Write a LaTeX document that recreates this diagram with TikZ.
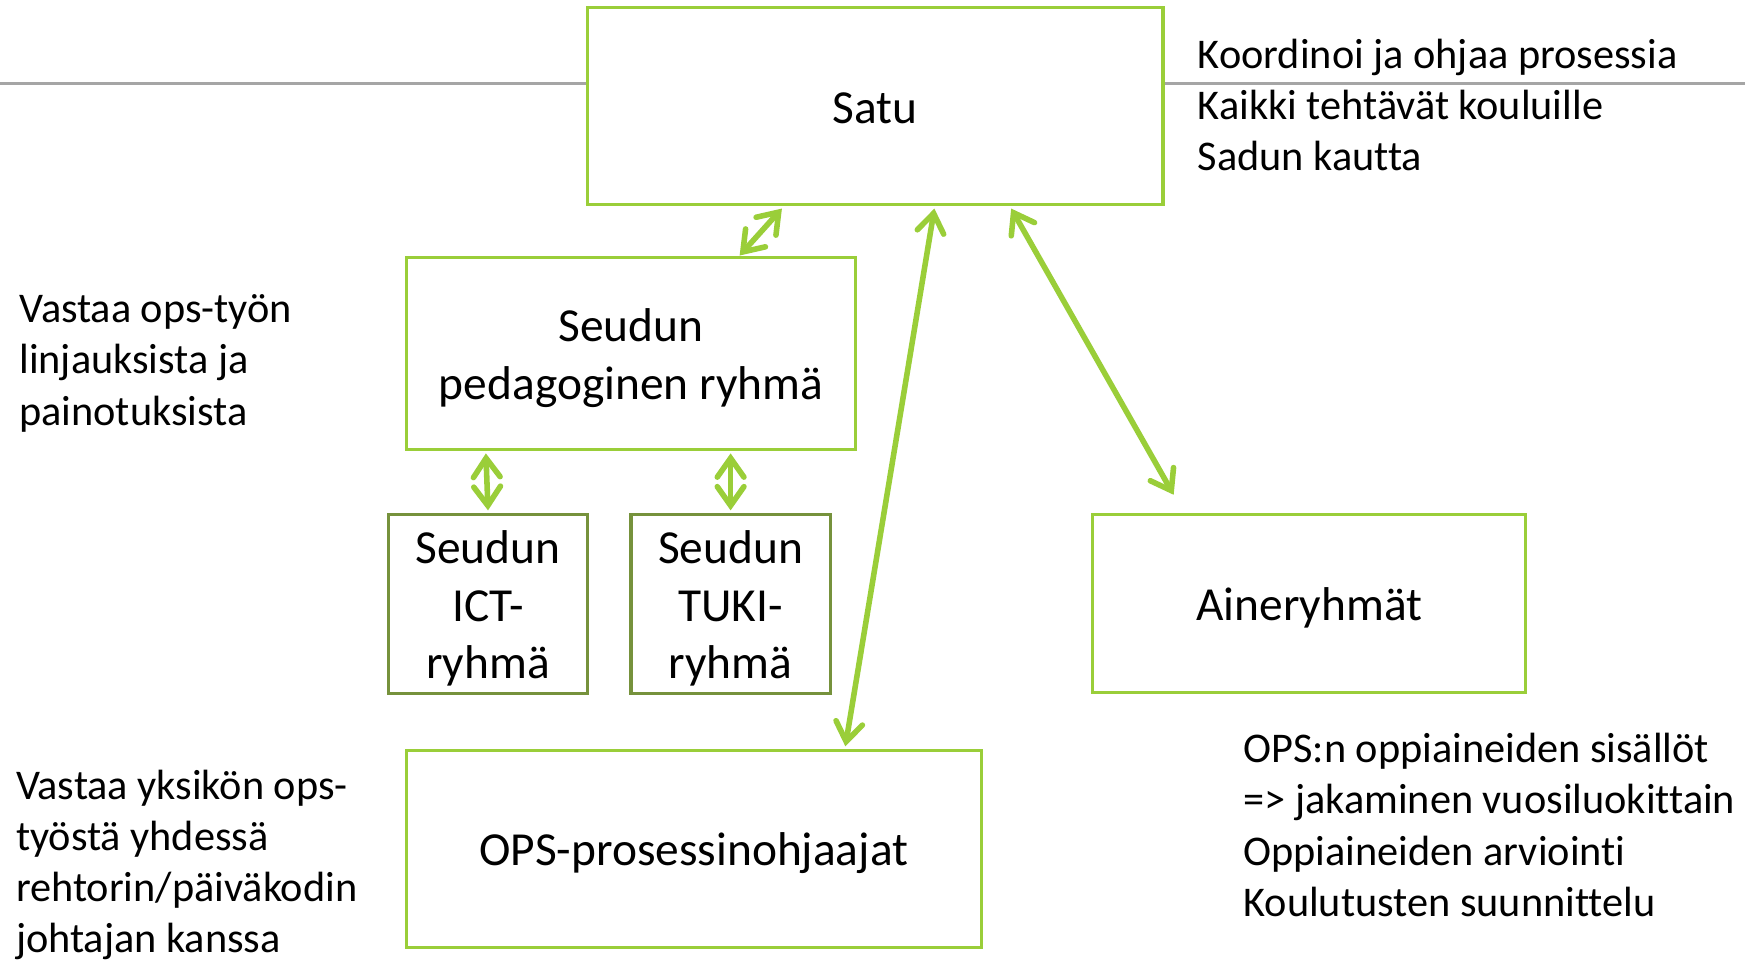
\documentclass[tikz,border=0pt]{standalone}
\usepackage{fontspec}
\setmainfont{Carlito}[Ligatures={NoCommon}]
\usetikzlibrary{arrows.meta,calc}
\definecolor{lgreen}{RGB}{154,206,57}
\definecolor{dgreen}{RGB}{118,146,60}
\definecolor{rulegray}{RGB}{165,165,165}
\newcommand\toppad{\rule{0pt}{19pt}}
\begin{document}
\begin{tikzpicture}[x=0.5pt,y=-0.5pt,
  box/.style={draw=lgreen,line width=1.4pt,fill=white,inner sep=0pt,align=center,
    font=\fontsize{21.3}{26}\selectfont},
  sbox/.style={box,draw=dgreen},
  side/.style={inner sep=0pt,align=left,anchor=north west,
    font=\fontsize{19}{23}\selectfont},
  link/.style={draw=lgreen,line width=2.5pt,line cap=round,
    {Straight Barb[length=8.5pt,width=12pt,line cap=round]}-{Straight Barb[length=8.5pt,width=12pt,line cap=round]}}]
\useasboundingbox (0,0) rectangle (1568,862);
\fill[white] (0,0) rectangle (1568,862);
\coordinate (rl) at (0,75);
\coordinate (rr) at (1568,75);
\draw[rulegray,line width=1pt] (rl) -- (rr);

\node[box,minimum width=258.5pt,minimum height=88.5pt] (satu) at (786.5,95.5) {\rule{0pt}{16pt}Satu};
\node[box,minimum width=202pt,minimum height=86.5pt] (ped) at (567,317.5) {\toppad Seudun\\pedagoginen ryhmä};
\node[sbox,minimum width=89.5pt,minimum height=80.5pt] (ict) at (438.5,542.5) {\toppad Seudun\\ICT-\\ryhmä};
\node[sbox,minimum width=89.5pt,minimum height=80.5pt] (tuki) at (656.5,542.5) {\toppad Seudun\\TUKI-\\ryhmä};
\node[box,minimum width=194.5pt,minimum height=80pt] (aine) at (1176.5,542) {\toppad Aineryhmät};
\node[box,minimum width=258.5pt,minimum height=88.5pt] (ops) at (623.5,762.5) {\toppad OPS-prosessinohjaajat};

\node[side] (t1) at (1076,34.5) {Koordinoi ja ohjaa prosessia\\Kaikki tehtävät kouluille\\Sadun kautta};
\node[side] (t2) at (17,264.5) {Vastaa ops-työn\\linjauksista ja\\painotuksista};
\node[side] (t3) at (14,691.5) {Vastaa yksikön ops-\\työstä yhdessä\\rehtorin/päiväkodin\\johtajan kanssa};
\node[side] (t4) at (1117,658.5) {OPS:n oppiaineiden sisällöt\\=> jakaminen vuosiluokittain\\Oppiaineiden arviointi\\Koulutusten suunnittelu};

\draw[link] ($(satu.south west)+(176,2)$) -- ($(ped.north west)+(301,0)$);
\draw[link] ($(ped.south west)+(73,2)$) -- ($(ict.north)+(0,-2)$);
\draw[link] ($(tuki.north |- ped.south)+(0,2)$) -- ($(tuki.north)+(0,-2)$);
\draw[link] ($(satu.south west)+(313,2)$) -- ($(ops.north west)+(396,-2)$);
\draw[link] ($(satu.south west)+(382,2)$) -- ($(aine.north west)+(74,-16)$);
\end{tikzpicture}
\end{document}
